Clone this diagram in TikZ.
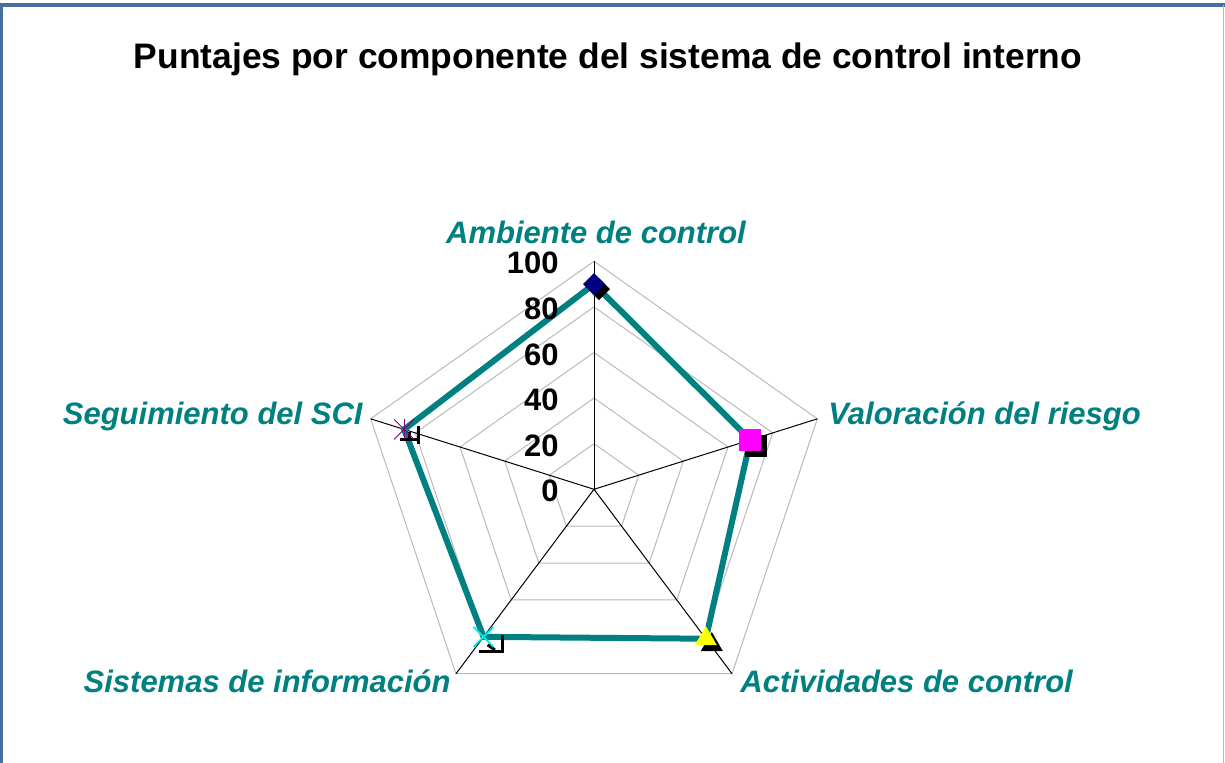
\documentclass[tikz,border=0pt]{standalone}
\usepackage{fontspec}
\setmainfont{Liberation Sans}
\usetikzlibrary{shapes.geometric,shapes.misc,positioning}

\definecolor{lineteal}{RGB}{0,128,128}
\definecolor{navymark}{RGB}{0,0,128}
\definecolor{pinkmark}{RGB}{255,0,255}
\definecolor{yellowmark}{RGB}{255,255,0}
\definecolor{cyanmark}{RGB}{0,235,235}
\definecolor{purplemark}{RGB}{128,0,128}
\definecolor{framebar}{RGB}{70,112,160}
\definecolor{frameside}{RGB}{170,185,205}

\tikzset{
  gridring/.style={gray!55, line width=0.5pt},
  spoke/.style={black, line width=0.5pt},
  scoreline/.style={lineteal, line width=3pt, line join=miter},
  axislabel/.style={text=lineteal, font=\fontsize{15.5}{18}\selectfont\bfseries\itshape, inner sep=0pt},
  ticklabel/.style={font=\fontsize{15.5}{18}\selectfont\bfseries, inner sep=0pt, anchor=east},
  markbase/.style={inner sep=0pt, outer sep=0pt},
  shadowline/.style={black, line width=1.5pt},
}

\begin{document}
\begin{tikzpicture}[x=0.5pt, y=0.5pt]
\useasboundingbox (0,0) rectangle (1225,763);

% Frame
\draw[framebar, line width=2pt] (0,758) -- (1225,758);
\draw[framebar, line width=1.5pt] (1.5,0) -- (1.5,759);
\draw[frameside, line width=0.75pt] (1223.5,0) -- (1223.5,758);

% Title
\node[font=\fontsize{17.7}{21}\selectfont\bfseries, inner sep=0pt] (title) at (608,704)
  {Puntajes por componente del sistema de control interno};

% Radar
\begin{scope}[shift={(594,273.7)}, xscale=1.03]
  % rings every 20 points
  \foreach \r in {1,...,5}
    \draw[gridring] (90:\r*45.6) -- (18:\r*45.6) -- (-54:\r*45.6)
      -- (-126:\r*45.6) -- (162:\r*45.6) -- cycle;
  % spokes
  \foreach \a in {90,18,-54,-126,162}
    \draw[spoke] (0,0) -- (\a:228);

  % scores
  \coordinate (amb) at (90:205.2);
  \coordinate (val) at (18:159.6);
  \coordinate (act) at (-54:184.7);
  \coordinate (sis) at (-126:182.4);
  \coordinate (seg) at (162:193.8);
  \draw[scoreline] (amb) -- (val) -- (act) -- (sis) -- (seg) -- cycle;

  % marker shadows
  \node[markbase, diamond, fill=black, minimum width=11pt, minimum height=11pt,
    xshift=2.5pt, yshift=-2.5pt] (amb-sh) at (amb) {};
  \node[markbase, rectangle, fill=black, minimum size=11pt,
    xshift=3pt, yshift=-3pt] (val-sh) at (val) {};
  \node[markbase, regular polygon, regular polygon sides=3, fill=black,
    minimum size=12.7pt, xshift=3pt, yshift=-3pt] (act-sh) at (act) {};
  \draw[shadowline] ([shift={(-4,-15)}]sis) -- ([shift={(18,-15)}]sis) -- ([shift={(18,2)}]sis);
  \draw[shadowline] ([shift={(4,-8)}]sis) -- ([shift={(11,-13)}]sis);
  \draw[shadowline] ([shift={(-4,-10)}]seg) -- ([shift={(14,-10)}]seg);
  \draw[shadowline] ([shift={(14,3)}]seg) -- ([shift={(14,-15)}]seg);
  \draw[shadowline] ([shift={(5,-3)}]seg) -- ([shift={(5,-12)}]seg);

  % markers
  \node[markbase, diamond, fill=navymark, minimum width=11pt, minimum height=11pt] (amb-mk) at (amb) {};
  \node[markbase, rectangle, fill=pinkmark, minimum size=11pt] (val-mk) at (val) {};
  \node[markbase, regular polygon, regular polygon sides=3, fill=yellowmark,
    minimum size=12.7pt] (act-mk) at (act) {};
  \node[markbase, cross out, draw=cyanmark, line width=0.9pt, minimum size=10pt] (sis-mk) at (sis) {};
  \node[markbase, cross out, draw=purplemark, line width=0.5pt, minimum size=10pt] (seg-mk) at (seg) {};
  \draw[purplemark, line width=0.5pt] (seg-mk.north) -- (seg-mk.south);
\end{scope}

% Scale values
\foreach \v in {0,20,...,100}
  \node[ticklabel] (tick-\v) at (559,271.7+2.28*\v) {\v};

% Component names
\node[axislabel, anchor=base] (lab-amb) at (596,519) {Ambiente de control};
\node[axislabel, anchor=base west] (lab-val) at (828,338) {Valoración del riesgo};
\node[axislabel, anchor=base west] (lab-act) at (740,70) {Actividades de control};
\node[axislabel, anchor=base east] (lab-sis) at (451,70) {Sistemas de información};
\node[axislabel, anchor=base east] (lab-seg) at (363,338) {Seguimiento del SCI};
\end{tikzpicture}
\end{document}
